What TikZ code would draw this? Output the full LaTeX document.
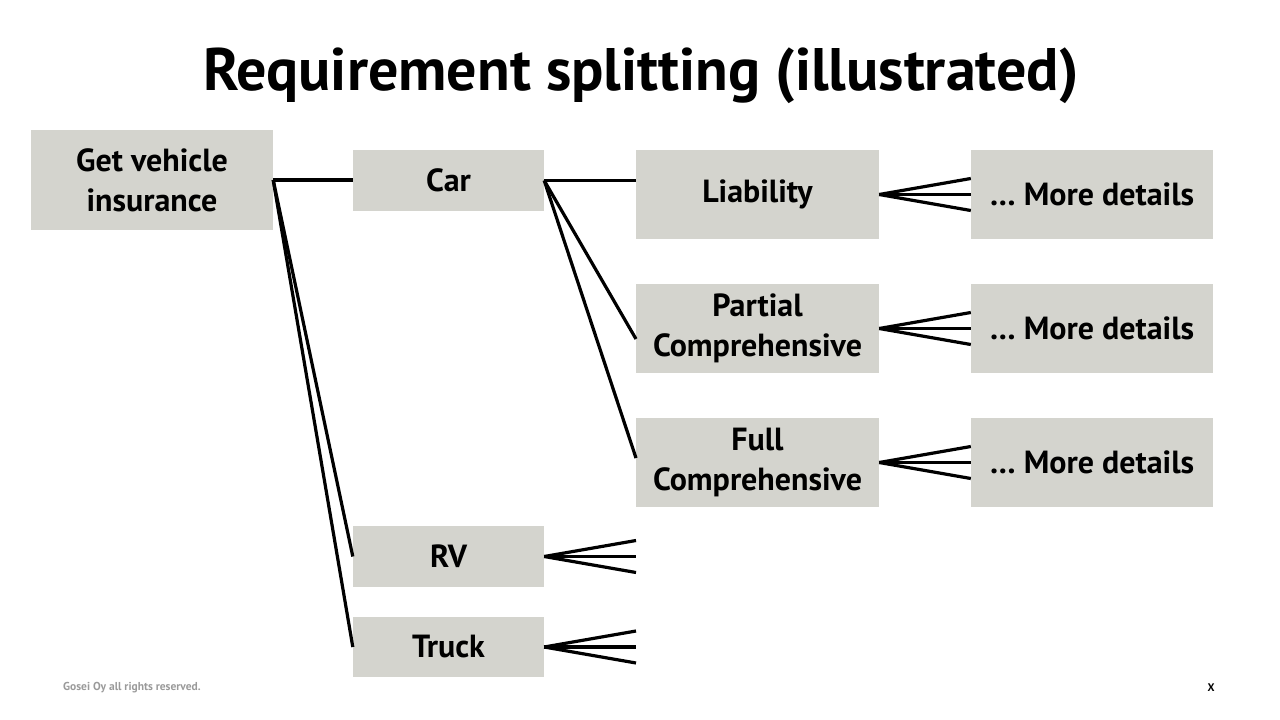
\documentclass[tikz,border=0pt]{standalone}
\usepackage{fontspec}
\setmainfont{PT Sans}
\definecolor{boxgray}{HTML}{D4D4CE}
\definecolor{footgray}{HTML}{9A9A9A}
\begin{document}
\begin{tikzpicture}[x=1pt,y=-1pt,
  box/.style={fill=boxgray,draw=none,inner sep=0pt,align=center,font=\fontsize{32}{40}\selectfont\bfseries},
  conn/.style={line width=3.2pt,black}]
\useasboundingbox (0,0) rectangle (1280,720);
\node[font=\fontsize{60}{70}\selectfont\bfseries] (title) at (641,76) {Requirement splitting (illustrated)};
% boxes
\node[box,minimum width=242pt,minimum height=100pt] (root) at (152,180) {Get vehicle\\insurance};
\node[box,minimum width=191pt,minimum height=61pt] (car) at (448.5,180.5) {Car};
\node[box,minimum width=191pt,minimum height=61pt] (rv) at (448.5,556.5) {RV};
\node[box,minimum width=191pt,minimum height=60pt] (truck) at (448.5,647) {Truck};
\node[box,minimum width=243pt,minimum height=89pt] (liab) at (757.5,194.5) {Liability};
\node[box,minimum width=243pt,minimum height=89pt] (part) at (757.5,328.5) {Partial\\Comprehensive};
\node[box,minimum width=243pt,minimum height=89pt] (full) at (757.5,462.5) {Full\\Comprehensive};
\node[box,minimum width=242pt,minimum height=89pt] (m1) at (1092,194.5) {\dots\ More details};
\node[box,minimum width=242pt,minimum height=89pt] (m2) at (1092,328.5) {\dots\ More details};
\node[box,minimum width=242pt,minimum height=89pt] (m3) at (1092,462.5) {\dots\ More details};
% root connectors
\draw[conn] (root.east) -- (car.west |- root.east);
\draw[conn] (root.east) -- (rv.west);
\draw[conn] (root.east) -- (truck.west);
% car connectors
\coordinate (cp) at (636,339);
\coordinate (cf) at (636,458);
\draw[conn] (car.east) -- (liab.west |- car.east);
\draw[conn] (car.east) -- (cp);
\draw[conn] (car.east) -- (cf);
% fans to more details
\foreach \a/\b in {liab/m1,part/m2,full/m3}{
  \draw[conn] (\a.east) -- ([yshift=-16pt]\b.west);
  \draw[conn] (\a.east) -- (\b.west);
  \draw[conn] (\a.east) -- ([yshift=16pt]\b.west);
}
% open fans
\coordinate (rvend) at (636,556.5);
\coordinate (trend) at (636,647);
\foreach \a/\b in {rv/rvend,truck/trend}{
  \draw[conn] (\a.east) -- ([yshift=-16pt]\b);
  \draw[conn] (\a.east) -- (\b);
  \draw[conn] (\a.east) -- ([yshift=16pt]\b);
}
% footer
\node[anchor=west,text=footgray,font=\fontsize{11.5}{13}\selectfont\bfseries,inner sep=0pt] (foot) at (63,688) {Gosei Oy all rights reserved.};
\node[font=\fontsize{11}{13}\selectfont\bfseries,inner sep=0pt] (pg) at (1211,688) {X};
\end{tikzpicture}
\end{document}
